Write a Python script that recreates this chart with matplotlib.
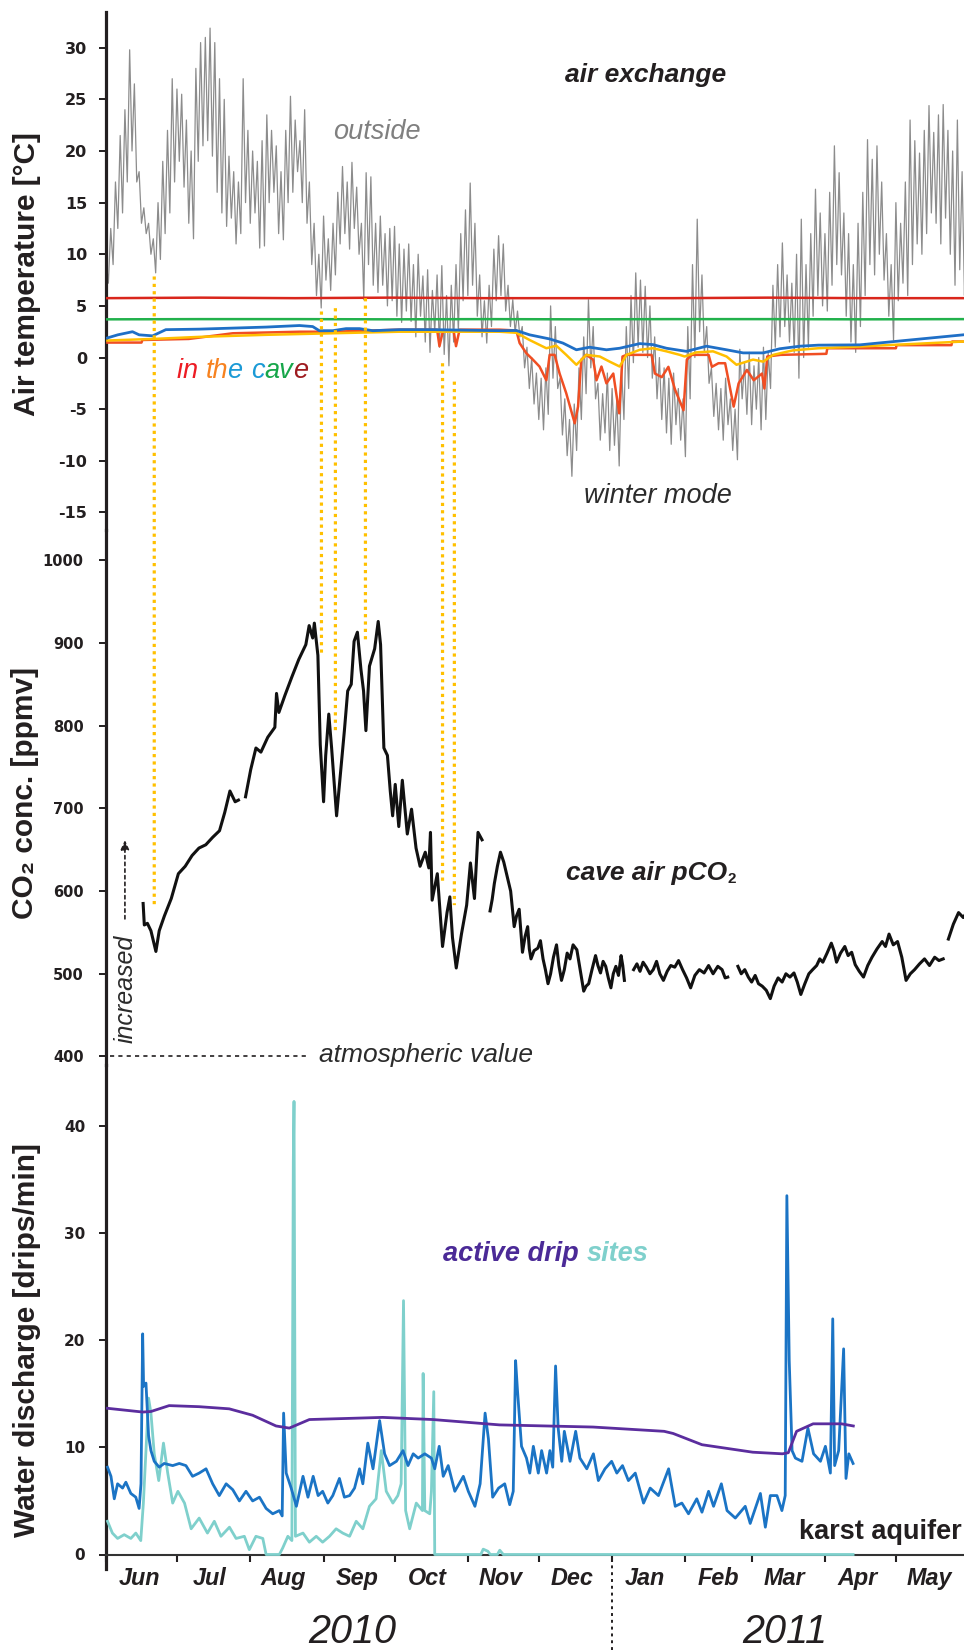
import numpy as np
import pandas as pd
import matplotlib
matplotlib.use("Agg")
import matplotlib.pyplot as plt
import matplotlib.dates as mdates
from matplotlib.patches import ConnectionPatch
from matplotlib.ticker import NullFormatter

plt.rcParams['axes.unicode_minus'] = False

nan = float('nan')
START = pd.Timestamp('2010-06-01')
END_DAY = 362.8

# ---------------- data (days counted from 1 June 2010) ----------------
# outside air temperature, one value per day (alternating warm / cold reading)
T_OUT = [
    9.5, 7.2, 12.5, 9.0, 17.0, 12.5, 21.5, 14.0, 24.0, 17.0,
    29.8, 20.0, 26.5, 17.0, 18.0, 13.0, 14.5, 12.0, 13.0, 10.0,
    11.5, 8.2, 15.0, 9.5, 19.0, 12.0, 22.0, 14.0, 27.0, 17.0,
    26.0, 19.0, 25.5, 16.5, 23.0, 13.0, 20.0, 11.5, 28.0, 19.0,
    30.5, 20.5, 31.0, 21.0, 31.9, 19.5, 30.5, 16.0, 27.0, 14.0,
    25.0, 12.7, 19.5, 13.5, 18.0, 11.0, 17.0, 12.0, 27.0, 15.0,
    22.0, 13.0, 20.0, 14.0, 19.0, 10.6, 21.0, 10.8, 23.5, 15.0,
    22.0, 16.0, 20.5, 12.0, 18.0, 11.4, 22.0, 15.0, 25.3, 16.0,
    23.0, 18.0, 21.0, 15.0, 24.0, 13.0, 17.0, 9.0, 13.0, 6.0,
    10.0, 4.8, 13.7, 7.5, 11.5, 6.5, 13.0, 8.0, 16.0, 11.0,
    18.5, 12.0, 17.0, 10.5, 18.9, 12.5, 16.5, 10.0, 13.0, 5.6,
    17.9, 9.0, 17.5, 7.0, 13.0, 6.3, 13.7, 7.0, 12.0, 5.0,
    12.5, 5.5, 12.7, 4.0, 11.0, 3.4, 10.5, 4.5, 11.0, 3.5,
    9.0, 2.0, 10.0, 4.0, 7.9, 1.5, 8.5, 0.5, 6.5, 2.5,
    8.0, 1.0, 8.9, 0.3, 6.0, -0.8, 7.0, 1.5, 9.0, 2.5,
    12.0, 5.5, 14.3, 6.0, 16.9, 7.0, 13.0, 4.0, 8.0, 2.0,
    5.5, 1.4, 7.0, 3.0, 10.5, 5.5, 11.8, 6.0, 11.0, 4.5,
    7.0, 3.0, 5.6, 2.4, 4.5, 2.0, 3.0, -1.0, 1.0, -3.0,
    0.0, -4.5, -1.5, -6.0, -2.0, -7.0, -1.0, -5.5, 5.0, -2.0,
    3.0, -3.0, -2.0, -7.5, -4.0, -9.5, -6.0, -11.5, -4.5, -9.0,
    -1.0, -6.0, 2.0, -3.5, 5.6, -1.0, 3.0, -4.0, -2.5, -8.0,
    -3.5, -7.3, -1.5, -9.0, -3.0, -8.5, -4.0, -10.5, -1.0, -6.0,
    3.0, -3.0, 6.0, -0.5, 8.2, 1.0, 7.5, 0.5, 6.9, 0.0,
    5.0, -2.0, 2.0, -4.0, 0.0, -6.0, -1.0, -7.3, -2.0, -8.4,
    -1.5, -6.5, -3.0, -8.0, -4.0, -9.6, 3.0, -4.0, 9.0, 0.0,
    13.4, 2.5, 8.0, 0.5, 3.0, -2.5, -1.0, -5.7, -2.5, -7.0,
    -3.0, -8.0, -2.0, -6.5, -4.0, -9.0, -5.0, -9.9, 0.8, -4.0,
    -0.5, -5.5, 0.5, -6.5, -0.8, -5.0, 0.0, -7.0, 1.0, -6.0,
    0.5, -3.0, 7.0, 1.0, 9.0, 2.0, 11.1, 3.0, 8.0, 1.5,
    7.2, 0.5, 10.0, -2.0, 13.4, 0.0, 9.0, 1.0, 12.0, 4.0,
    16.3, 6.0, 14.0, 5.0, 12.0, 4.5, 16.0, 7.0, 20.5, 9.0,
    17.9, 8.0, 14.0, 4.0, 12.0, 1.5, 9.0, 0.5, 13.0, 3.0,
    16.0, 6.0, 21.1, 9.0, 19.2, 8.0, 20.5, 10.0, 17.0, 7.5,
    12.0, 4.0, 9.0, 1.7, 15.0, 5.5, 13.0, 7.2, 17.0, 6.0,
    23.0, 9.0, 21.0, 11.0, 19.8, 10.0, 22.0, 12.0, 24.4, 14.0,
    21.8, 13.0, 23.5, 11.0, 24.5, 13.5, 22.0, 10.0, 20.0, 7.0,
    23.0, 8.5, 18.0, 6.0, 20.0,
]

# cave loggers
FLAT_DAY = [0.5, 40, 80, 120, 160, 200, 240, 280, 320, 363]
T_CAVE_RED = [5.75, 5.8, 5.75, 5.8, 5.75, 5.75, 5.75, 5.8, 5.75, 5.75]
T_CAVE_GREEN = [3.7, 3.72, 3.72, 3.7, 3.72, 3.7, 3.72, 3.72, 3.7, 3.72]

BLUE_DAY = [0.6, 5, 11.2, 14, 19.7, 25.3, 39.4, 53.6, 67.7, 81.8, 87.4, 90.2, 95.9,
            101.5, 107.2, 112.8, 124.1, 138.2, 166.4, 173.5, 179.1, 187.6, 193.2,
            198.9, 204.5, 211.6, 217.2, 225.7, 231.3, 237, 245.4, 253.9, 262.4,
            269.4, 277.9, 284.9, 293.4, 301.2, 318.8, 340, 362.5]
T_CAVE_BLUE = [1.9, 2.2, 2.5, 2.2, 2.1, 2.7, 2.75, 2.85, 2.95, 3.1, 3.0, 2.6, 2.6,
               2.8, 2.8, 2.6, 2.7, 2.7, 2.6, 2.62, 2.2, 1.8, 1.4,
               0.75, 1.0, 0.75, 0.9, 1.35, 1.25, 0.9, 0.6, 1.1, 0.75,
               0.45, 0.45, 0.85, 1.1, 1.2, 1.23, 1.7, 2.2]

YEL_DAY = [0.6, 19.7, 39.4, 67.7, 95.9, 124, 166.4, 173.5, 179.1, 186.2, 190.4,
           194.6, 198.9, 203.1, 208.8, 213, 217.2, 220.1, 225.7, 231.3, 237,
           242.6, 244.7, 249.6, 256.7, 262.4, 266.6, 273.6, 277.9, 282.1, 290.6,
           301.2, 318.8, 362.5]
T_CAVE_YELLOW = [1.65, 1.8, 2.0, 2.2, 2.35, 2.5, 2.5, 2.4, 1.7, 0.9, 1.15,
                 0.26, -0.7, 0.26, 0.1, -0.4, -0.87, 0.26, 0.75, 0.9, 0.6,
                 0.26, 0.1, 0.5, 0.6, 0.1, -0.7, -0.2, -0.4, 0.26, 0.7,
                 0.9, 1.07, 1.55]

ORG_DAY = [0.6, 15, 15.4, 35, 53.6, 81.8, 95.9, 124, 140, 141, 142.5, 147, 148,
           149.5, 166.4, 173.5, 174.9, 177.7, 180.5, 183.3, 186.2, 187.6, 189.7,
           191.8, 194.6, 198.2, 199.6, 201, 203.1, 206, 207.4, 209.5, 211.6,
           214.5, 217, 218.4, 220.1, 230.7, 232.1, 235, 237.8, 240.6, 244.2,
           245.6, 247.7, 254.8, 256.2, 259, 261.8, 265.4, 267.5, 271, 273.9,
           277.4, 278.4, 279.6, 285.2, 304.6, 305, 334, 334.3, 357.5, 357.8, 362.5]
T_CAVE_ORANGE = [1.45, 1.45, 1.7, 1.8, 2.35, 2.5, 2.5, 2.7, 2.7, 1.1, 2.6, 2.6, 1.1,
                 2.7, 2.7, 2.62, 1.4, 0.43, -0.2, -0.87, -2.2, 0.26, 0.26,
                 -1.55, -3.45, -6.36, -4.75, -0.2, 0.26, -0.2, -2.2, -0.87, -2.5,
                 -1.55, -5.4, 0.1, 0.26, 0.26, -1.55, -1.9, -0.9, -3.1, -5.1,
                 -0.2, 0.26, 0.26, -0.9, -0.55, -0.55, -4.75, -2.5, -1.2, -2.2,
                 -1.55, -3.0, 0.1, 0.26, 0.36, 0.9, 0.9, 1.2, 1.2, 1.55, 1.55]

# cave air CO2 (nan = logger gap)
CO2_DAY = [15.7, 16.2, 17.5, 19.0, 21.1, 22.5, 24.7, 27.6, 30.6, 33.5, 36.4, 39.3,
           42.2, 45.1, 48.0, 50.2, 52.4, 54.6, 56.0, 57.5,
           59.0, 61.2, 63.4, 65.5, 68.4, 71.4, 72.1, 73.1, 75.7, 78.6, 81.5, 84.5,
           85.9, 87.4, 88.1, 89.6, 90.6, 92.0, 92.9, 94.2, 95.4, 97.5, 99.3, 100.8,
           102.2, 103.7, 104.9, 106.3, 107.8, 108.9, 109.9, 111.4, 113.6, 115.1,
           116.1, 117.5, 119.0, 120.2, 121.2, 122.3, 123.8, 125.3, 127.4, 129.2,
           131.1, 132.8, 135.0, 136.5, 137.2, 137.9, 140.1, 142.3, 144.2, 145.4,
           146.5, 148.1, 150.3, 152.5, 154.1, 155.8, 157.3, 159.0, 160.7,
           162.4, 163.3, 164.2, 165.5, 166.8, 168.2, 169.7, 171.1, 172.6, 173.6,
           174.7, 176.1, 177.2, 178.3, 179.0, 179.7, 181.0, 182.6, 183.7, 184.8,
           185.8, 186.9, 188.0, 189.2, 190.5, 191.5, 192.6, 193.8, 195.0, 196.2,
           197.5, 199.1, 200.5, 202.0, 203.0, 204.1, 205.5, 207.0, 208.0, 209.1,
           210.2, 211.3, 212.4, 213.5, 214.5, 215.6, 216.7, 217.8, 218.5, 219.2,
           221.0,
           223.1, 224.5, 225.8, 227.1, 228.5, 230.0, 231.4, 232.8, 234.2, 235.7,
           237.3, 238.8, 240.5, 242.1, 243.8, 245.5, 247.2, 249.0, 250.9, 252.9,
           254.8, 256.7, 258.7, 260.5, 261.8, 262.9, 265.0,
           267.2, 268.6, 270.1, 271.6, 273.0, 274.5, 275.9, 277.5, 279.2, 280.9,
           282.5, 284.2, 285.9, 287.5, 289.2, 290.9, 292.3, 293.8, 295.5, 297.2,
           298.8, 300.5, 301.8, 303.1, 304.9, 306.7, 307.8, 308.9, 310.6, 312.4,
           313.8, 315.3, 316.8, 318.5, 320.3, 322.1, 323.9, 326.0, 328.2, 329.6,
           331.1, 332.9, 334.7, 336.5, 338.3, 340.1, 341.9, 344.0, 346.1, 348.2,
           350.4, 352.2, 354.0, 355.1,
           356.2, 358.3, 360.5, 362.5, 364.8]
CO2_PPM = [585, 559, 561, 552, 527, 552, 570, 591, 621, 630, 643, 652,
           656, 665, 673, 695, 721, 708, 710, nan,
           714, 747, 773, 768, 786, 798, 839, 816, 837, 859, 880, 898,
           921, 906, 924, 885, 777, 708, 764, 814, 773, 691, 747, 794,
           842, 850, 902, 913, 868, 842, 794, 872, 893, 926,
           898, 773, 764, 721, 691, 729, 678, 734, 669, 699,
           652, 630, 647, 628, 671, 589, 621, 533, 574, 593,
           544, 507, 548, 583, 634, 591, 671, 662, nan,
           576, 590, 609, 630, 647, 635, 617, 600, 557, 570,
           578, 526, 545, 557, 530, 518, 528, 531, 540, 518,
           505, 488, 500, 520, 535, 510, 492, 505, 525, 518,
           535, 529, 505, 479, 485, 488, 505, 522, 510, 501,
           515, 509, 495, 483, 500, 509, 498, 522, 510, 492,
           nan,
           505, 512, 503, 514, 508, 500, 505, 515, 500, 492,
           503, 510, 508, 516, 505, 495, 483, 498, 505, 501,
           510, 500, 509, 505, 495, 496, nan,
           509, 500, 505, 496, 490, 498, 488, 485, 480, 470,
           485, 495, 490, 500, 496, 501, 490, 475, 488, 500,
           505, 510, 518, 514, 525, 537, 528, 514, 525, 533,
           522, 526, 511, 503, 496, 510, 520, 530, 539, 533,
           548, 535, 539, 520, 492, 500, 505, 512, 518, 510,
           520, 516, 518, nan,
           542, 560, 574, 568, 578]
ATM_CO2 = 400

# drip discharge
PURPLE_DAY = [0.6, 15.5, 19, 26.7, 39.4, 52.1, 62, 71.9, 77.5, 86, 117, 138.2,
              166.4, 205.9, 236, 239.8, 252, 273.5, 286, 288.5, 292, 299, 311, 316]
DRIP_PURPLE = [13.65, 13.3, 13.35, 13.9, 13.8, 13.6, 13.0, 12.0, 11.8, 12.6, 12.8, 12.6,
               12.1, 11.9, 11.5, 11.3, 10.25, 9.55, 9.4, 9.5, 11.5, 12.2, 12.2, 12.0]

BLUE_W_DAY = [0.65, 2.1, 3.5, 4.9, 7.0, 8.4, 10.5, 12.6, 14.0, 14.8, 15.5, 15.9, 16.9,
              18.0, 19.0, 20.4, 22.5, 24.6, 28.2, 31.0, 33.8, 36.6, 39.4, 42.3, 45.1,
              47.9, 50.8, 53.6, 56.4, 59.2, 62.0, 64.9, 67.7, 70.5, 73.3, 74.5, 75.1,
              76.2, 78.3, 80.5, 83.3, 85.4, 87.6, 89.7, 91.6, 93.8, 95.9, 98.7, 100.8,
              103.0, 105.1, 107.2, 108.6, 110.7, 112.9, 115.7, 117.8, 119.9, 122.8,
              125.6, 127.7, 129.9, 132.0, 134.8, 137.6, 139.0, 140.9, 142.6, 144.7,
              147.5, 151.1, 153.2, 156.0, 158.2, 160.3, 161.7, 163.5, 166.0, 168.6,
              170.7, 172.2, 173.2, 174.0, 175.7, 177.8, 179.2, 180.7, 182.8, 184.2,
              186.3, 187.7, 188.9, 190.1, 191.2, 192.7, 193.8, 196.2, 198.6, 200.4,
              203.3, 206.1, 208.2, 211.0, 213.8, 216.0, 218.4, 220.9, 223.8, 227.3,
              230.1, 233.6, 237.9, 240.7, 243.5, 246.3, 249.8, 252.0, 254.8, 256.9,
              260.2, 262.6, 266.1, 270.3, 272.4, 276.7, 278.8, 280.9, 283.7, 285.8,
              287.2, 287.9, 288.9, 290.1, 291.5, 294.3, 296.8, 299.2, 302.1, 304.2,
              306.3, 307.3, 308.1, 309.8, 311.9, 312.9, 314.1, 315.9]
DRIP_BLUE = [8.15, 7.3, 5.2, 6.6, 6.2, 6.75, 5.7, 5.35, 4.3, 6.6, 20.6, 15.7, 16.0,
             11.1, 9.7, 8.7, 8.15, 8.5, 8.3, 8.5, 8.3, 7.3, 7.6, 8.0, 6.6,
             5.5, 6.6, 6.05, 5.0, 5.9, 5.0, 5.35, 4.3, 3.8, 4.1, 3.6, 13.2,
             7.6, 6.2, 4.5, 7.3, 5.35, 7.3, 5.5, 5.9, 4.8, 5.5, 7.1, 5.35,
             5.5, 6.2, 8.0, 6.6, 10.4, 8.0, 12.5, 9.4, 8.3, 8.7,
             9.7, 8.3, 9.4, 9.0, 9.4, 9.0, 8.0, 10.1, 7.3, 8.3,
             5.9, 7.3, 5.9, 4.5, 6.6, 13.2, 10.8, 5.35, 6.2, 6.6,
             4.65, 5.9, 18.1, 15.3, 10.1, 9.0, 7.6, 10.1, 7.6, 9.7,
             7.6, 9.7, 8.15, 17.6, 11.8, 8.7, 11.5, 8.7, 11.5, 9.0,
             8.0, 9.4, 6.9, 8.0, 8.7, 7.6, 8.3, 6.9, 7.6, 4.8,
             6.2, 5.5, 8.0, 4.5, 4.8, 3.8, 5.2, 3.95, 5.9, 4.5,
             6.6, 4.1, 3.4, 4.5, 2.9, 5.7, 2.55, 5.5, 5.5, 4.1,
             5.5, 33.5, 18.1, 9.7, 9.0, 8.7, 11.8, 9.4, 8.7, 10.1,
             7.6, 22.0, 8.3, 9.7, 19.2, 7.1, 9.4, 8.5]

CYAN_DAY = [0.65, 2.7, 4.9, 7.7, 10.5, 12.6, 14.7, 15.8, 16.9, 18.0, 19.0, 20.4,
            22.3, 24.3, 26.1, 28.2, 30.4, 33.2, 36.0, 39.4, 42.9, 45.8, 48.6, 52.2,
            55.0, 58.5, 60.6, 63.4, 66.3, 67.7, 73.3, 74.7, 76.9, 78.6, 79.2, 79.5,
            80.1, 83.3, 86.0, 88.9, 91.6, 94.5, 97.3, 100.1, 103.0, 105.8, 108.6,
            111.4, 114.2, 116.4, 118.5, 121.3, 123.4, 124.8, 125.8, 126.7, 128.4,
            131.2, 133.8, 134.1, 134.8, 136.9, 137.6, 138.6, 139.0, 158.5, 159.5,
            161.5, 162.5, 165.5, 166.5, 168.0, 315.9]
DRIP_CYAN = [3.1, 2.0, 1.5, 1.85, 1.5, 2.0, 1.3, 4.8, 9.7, 14.6, 13.2, 9.4,
             6.9, 10.4, 7.6, 4.8, 5.9, 4.8, 2.4, 3.4, 2.0, 3.1, 1.7, 2.55,
             1.5, 1.7, 0.45, 1.7, 1.5, 0.0, 0.0, 0.6, 1.7, 1.3, 36.7, 42.3,
             1.7, 2.0, 1.15, 1.7, 1.15, 1.7, 2.4, 2.0, 1.7, 3.1, 2.4,
             4.5, 5.2, 9.7, 5.9, 4.8, 5.5, 6.6, 23.7, 4.1, 2.4,
             4.8, 4.1, 16.9, 4.1, 3.8, 5.9, 15.2, 0.0, 0.0, 0.5,
             0.3, 0.0, 0.0, 0.4, 0.0, 0.0]

# ventilation events (yellow dotted connectors)
EVENT_DAY = [20.4, 91.1, 97.0, 109.7, 142.3, 147.3]
EVENT_T = [7.85, 4.46, 4.78, 5.75, -0.55, -2.33]
EVENT_CO2 = [583, 884, 794, 900, 611, 583]

T_TICKS = [-15, -10, -5, 0, 5, 10, 15, 20, 25, 30]
CO2_TICKS = [400, 500, 600, 700, 800, 900, 1000]
DRIP_TICKS = [0, 10, 20, 30, 40]


def d(days):
    return START + pd.to_timedelta(np.asarray(days, dtype=float), unit='D')


W_PX, H_PX = 964, 1650


def fx(x):
    return x / W_PX


def fy(y):
    return 1 - y / H_PX


TXT = '#231f20'
SANS = ['Liberation Sans', 'DejaVu Sans']

fig = plt.figure(figsize=(9.64, 16.5), dpi=100)
L = 106 / W_PX
ax1 = fig.add_axes([L, fy(530), 1 - L, (530 - 12) / H_PX])
ax2 = fig.add_axes([L, fy(1065), 1 - L, (1065 - 530) / H_PX], sharex=ax1)
ax3 = fig.add_axes([L, fy(1554.5), 1 - L, (1554.5 - 1065) / H_PX], sharex=ax1)
for ax in (ax1, ax2, ax3):
    ax.patch.set_alpha(0)

# --- top panel: air temperature
ax1.plot(d(np.arange(len(T_OUT))), T_OUT, color='#8c8c8c', lw=0.9, zorder=2)
ax1.plot(d(FLAT_DAY), T_CAVE_RED, color='#d9261c', lw=1.8, zorder=3)
ax1.plot(d(FLAT_DAY), T_CAVE_GREEN, color='#22b14c', lw=1.8, zorder=3)
ax1.plot(d(ORG_DAY), T_CAVE_ORANGE, color='#f04e23', lw=1.8, zorder=3)
ax1.plot(d(YEL_DAY), T_CAVE_YELLOW, color='#ffbf00', lw=1.8, zorder=4)
ax1.plot(d(BLUE_DAY), T_CAVE_BLUE, color='#1f6fc6', lw=2.0, zorder=5)
ax1.set_ylim(-16.7, 33.46)
ax1.set_yticks(T_TICKS)

# --- middle panel: CO2
ax2.plot(d(CO2_DAY), CO2_PPM, color='#111111', lw=2.2, zorder=3)
ax2.plot(d([1.5, 86]), [ATM_CO2, ATM_CO2], color=TXT, lw=1.2, ls=(0, (2.5, 2.5)))
ax2.annotate('', xy=(d([8.0])[0], 665), xytext=(d([8.0])[0], 563),
             arrowprops=dict(arrowstyle='-|>,head_length=0.55,head_width=0.25',
                             color=TXT, lw=1.2, ls=(0, (2, 2))))
ax2.set_ylim(389.7, 1036.6)
ax2.set_yticks(CO2_TICKS)

# --- bottom panel: drip rates
ax3.plot(d(CYAN_DAY), DRIP_CYAN, color='#7fd0cc', lw=2.0, clip_on=False, zorder=3)
ax3.plot(d(BLUE_W_DAY), DRIP_BLUE, color='#1b74c5', lw=2.0, clip_on=False, zorder=4)
ax3.plot(d(PURPLE_DAY), DRIP_PURPLE, color='#5b2d9e', lw=2.0, clip_on=False, zorder=5)
ax3.set_ylim(0, 45.7)
ax3.set_yticks(DRIP_TICKS)
ax3.set_xlim(d([0, END_DAY]))

# axes styling
for ax, size, pad in ((ax1, 11.5, 8.5), (ax2, 10.5, 11), (ax3, 11, 10)):
    for s in ('top', 'right'):
        ax.spines[s].set_visible(False)
    ax.spines['left'].set_linewidth(2.3)
    ax.spines['left'].set_color(TXT)
    ax.tick_params(axis='y', direction='out', length=5, width=1.4, colors=TXT,
                   pad=pad, labelsize=size)
    for lab in ax.get_yticklabels():
        lab.set_fontweight('bold')
        lab.set_family('DejaVu Sans')
for ax in (ax1, ax2):
    ax.spines['bottom'].set_visible(False)
    ax.tick_params(axis='x', which='both', bottom=False, labelbottom=False)
ax3.spines['left'].set_bounds(-1.4, 45.7)

ax3.spines['bottom'].set_linewidth(1.5)
ax3.spines['bottom'].set_color('#333333')
ax3.xaxis.set_major_locator(mdates.MonthLocator())
ax3.xaxis.set_major_formatter(NullFormatter())
ax3.xaxis.set_minor_locator(mdates.MonthLocator(bymonthday=15))
ax3.xaxis.set_minor_formatter(mdates.DateFormatter('%b'))
ax3.tick_params(axis='x', which='major', direction='out', length=5, width=1.5, colors=TXT)
ax3.tick_params(axis='x', which='minor', length=0, pad=9, labelsize=16.8, colors=TXT)
for lab in ax3.get_xticklabels(minor=True):
    lab.set_fontweight('bold')
    lab.set_fontstyle('italic')
    lab.set_family(SANS)

# year divider
ax3.axvline(d([214])[0], ymin=-0.196, ymax=0, clip_on=False, color=TXT, lw=1.4, ls=(0, (1.5, 2)))

# yellow dotted connectors
for day, t, c in zip(EVENT_DAY, EVENT_T, EVENT_CO2):
    xn = mdates.date2num(d([day])[0])
    con = ConnectionPatch(xyA=(xn, t), coordsA=ax1.transData,
                          xyB=(xn, c), coordsB=ax2.transData,
                          color='#ffc000', lw=2.3, ls=(0, (1.0, 1.3)),
                          capstyle='butt', zorder=1)
    fig.add_artist(con)

# axis titles
lab_kw = dict(rotation=90, ha='center', va='center', fontsize=21.5,
              fontweight='bold', family=SANS, color=TXT)
fig.text(fx(27), fy(274), 'Air temperature [°C]', **lab_kw)
fig.text(fx(25), fy(793), 'CO\u2082 conc. [ppmv]', **lab_kw)
fig.text(fx(27), fy(1340), 'Water discharge [drips/min]', **lab_kw)


def rainbow(ax, x, y, parts, **kw):
    t = fig.text(fx(x), fy(y), parts[0][0], color=parts[0][1], ha='left', va='baseline', **kw)
    for s, c in parts[1:]:
        t = ax.annotate(s, xycoords=t, xy=(1, 0), ha='left', va='bottom', color=c, **kw)
    return t


fig.text(fx(646), fy(75), 'air exchange', ha='center', va='center', fontsize=19,
         fontweight='bold', fontstyle='italic', family=SANS, color=TXT)
fig.text(fx(377), fy(132), 'outside', ha='center', va='center', fontsize=19.5,
         fontstyle='italic', family=SANS, color='#808080')
rainbow(ax1, 177, 378, [('in ', '#ed1c24'), ('th', '#f7821f'), ('e ', '#1b9ad6'),
                        ('c', '#1b9ad6'), ('av', '#17a64a'), ('e', '#9e1b20')],
        fontsize=19.5, fontstyle='italic', family=SANS)
fig.text(fx(658), fy(496), 'winter mode', ha='center', va='center', fontsize=19.5,
         fontstyle='italic', family=SANS, color='#2b2b2b')

t = fig.text(fx(566), fy(880), 'cave air pCO', ha='left', va='baseline', fontsize=19,
             fontweight='bold', fontstyle='italic', family=SANS, color=TXT)
ax2.annotate('2', xycoords=t, xy=(1, 0), xytext=(0.5, -1), textcoords='offset points',
             ha='left', va='bottom', fontsize=11, fontweight='bold', family=SANS, color=TXT)
fig.text(fx(319), fy(1055), 'atmospheric value', ha='left', va='center', fontsize=19,
         fontstyle='italic', family=SANS, color='#2b2b2b')
fig.text(fx(125.6), fy(989), 'increased', rotation=90, ha='center', va='center',
         fontsize=18, fontstyle='italic', family=SANS, color='#2b2b2b')

rainbow(ax3, 443, 1261, [('active drip ', '#4b2a97'), ('sites', '#7fd0cc')],
        fontsize=19.5, fontweight='bold', fontstyle='italic', family=SANS)
fig.text(fx(962), fy(1532), 'karst aquifer', ha='right', va='center', fontsize=19.5,
         fontweight='bold', family=SANS, color=TXT)

fig.text(fx(352), fy(1632), '2010', ha='center', va='center', fontsize=28.5,
         fontstyle='italic', family=SANS, color=TXT)
fig.text(fx(785), fy(1632), '2011', ha='center', va='center', fontsize=28.5,
         fontstyle='italic', family=SANS, color=TXT)

fig.savefig('out.png', dpi=100, facecolor='white')
